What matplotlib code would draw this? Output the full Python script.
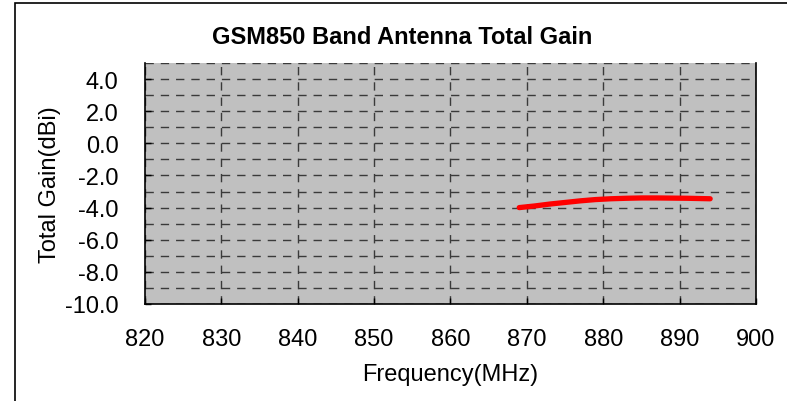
import matplotlib.pyplot as plt
from matplotlib.patches import Rectangle

plt.rcParams['font.family'] = ['Liberation Sans', 'DejaVu Sans']

# measured gain curve
freq = [869, 871, 873, 875, 877, 879, 881, 883, 885, 887, 889, 891, 894]
gain = [-4.0, -3.9, -3.78, -3.68, -3.58, -3.5, -3.45, -3.42, -3.4, -3.4, -3.41, -3.42, -3.45]

x_ticks = [820, 830, 840, 850, 860, 870, 880, 890, 900]
y_ticks = [-10, -8, -6, -4, -2, 0, 2, 4]
y_minor = [-9, -7, -5, -3, -1, 1, 3, 5]

fig = plt.figure(figsize=(7.87, 4.02), dpi=100)
ax = fig.add_axes([0.1842, 0.2413, 0.7764, 0.5995])
ax.set_facecolor('#c0c0c0')

ax.plot(freq, gain, color='#ff0000', lw=3.8, solid_capstyle='round', zorder=3)

ax.set_xlim(820, 900)
ax.set_ylim(-10, 5)
ax.set_xticks(x_ticks)
ax.set_yticks(y_ticks)
ax.set_yticks(y_minor, minor=True)
ax.set_yticklabels([f'{v:.1f}' for v in y_ticks])
ax.tick_params(axis='both', which='major', direction='in', length=4, width=1,
               labelsize=17, colors='black')
ax.tick_params(axis='y', which='minor', length=0)
ax.tick_params(axis='x', pad=17)
ax.tick_params(axis='y', pad=19)

ax.grid(True, which='both', color='#3a3a3a', ls=(0, (6, 5)), lw=1)
ax.set_axisbelow(True)
ax.spines['top'].set_visible(False)
for s in ['left', 'right', 'bottom']:
    ax.spines[s].set_linewidth(1.2)

# title sits left of the axes centre in the original
fig.text(402 / 787, 1 - 38 / 402, 'GSM850 Band Antenna Total Gain', fontsize=17,
         fontweight='bold', ha='center', va='center')
ax.set_xlabel('Frequency(MHz)', fontsize=17, labelpad=10)
ax.set_ylabel('Total Gain(dBi)', fontsize=17, labelpad=3)

# outer chart frame (cut by the image edge)
fig.patches.append(Rectangle((15 / 787, -0.1), 1.2, (398 / 402) + 0.1,
                             transform=fig.transFigure, fill=False,
                             edgecolor='black', lw=1.2))

fig.savefig('out.png', dpi=100)
